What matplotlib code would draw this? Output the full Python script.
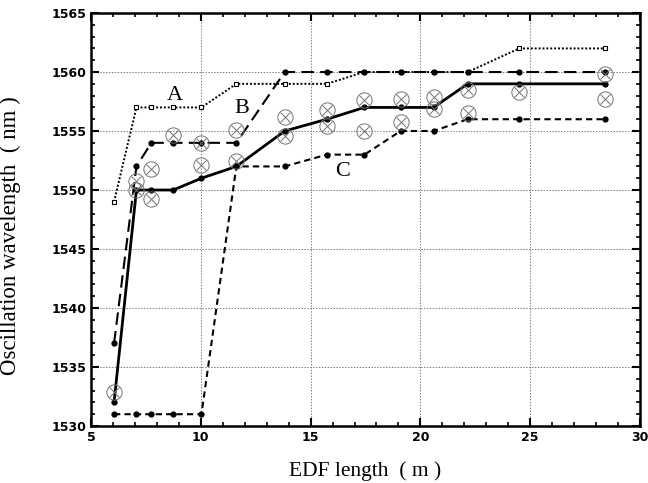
import matplotlib

matplotlib.use("Agg")
import matplotlib.pyplot as plt
from matplotlib.ticker import MultipleLocator

# EDF lengths (m) shared by all simulated curves
EDF_LEN = [6.05, 7.07, 7.75, 8.74, 10.03, 11.62, 13.82, 15.74, 17.45, 19.1, 20.6, 22.15, 24.5, 28.4]

# simulated oscillation wavelength (nm)
CURVE_A = [1549, 1557, 1557, 1557, 1557, 1559, 1559, 1559, 1560, 1560, 1560, 1560, 1562, 1562]
CURVE_B = [1537, 1552, 1554, 1554, 1554, 1554, 1560, 1560, 1560, 1560, 1560, 1560, 1560, 1560]
CURVE_MID = [1532, 1550, 1550, 1550, 1551, 1552, 1555, 1556, 1557, 1557, 1557, 1559, 1559, 1559]
CURVE_C = [1531, 1531, 1531, 1531, 1531, 1552, 1552, 1553, 1553, 1555, 1555, 1556, 1556, 1556]

# measured points
MEAS_X = [6.05, 7.07, 7.07, 7.75, 7.75, 8.74, 10.03, 10.03, 11.62, 11.62, 13.82, 13.82,
          15.74, 15.74, 17.45, 17.45, 19.1, 19.1, 20.6, 20.6, 22.15, 22.15, 24.5, 28.4, 28.4]
MEAS_Y = [1532.9, 1550.8, 1550.0, 1551.8, 1549.2, 1554.7, 1554.0, 1552.1, 1555.1, 1552.5,
          1556.2, 1554.6, 1556.8, 1555.4, 1557.6, 1555.0, 1557.7, 1555.8, 1557.9, 1556.9,
          1558.5, 1556.5, 1558.3, 1559.8, 1557.7]

SERIF = ["Liberation Serif", "DejaVu Serif"]

fig = plt.figure(figsize=(6.48, 4.83), dpi=100)
ax = fig.add_axes([0.1404, 0.118, 0.8473, 0.855])

ax.plot(EDF_LEN, CURVE_A, color="black", lw=1.4, linestyle=(0, (1, 1)),
        marker="s", markersize=3.5, markerfacecolor="white", markeredgewidth=0.8, zorder=3)
ax.plot(EDF_LEN, CURVE_B, color="black", lw=1.5, linestyle=(0, (6, 3)),
        marker="o", markersize=3.5, zorder=3)
ax.plot(EDF_LEN, CURVE_MID, color="black", lw=2.0, linestyle="-",
        marker="o", markersize=3.5, zorder=4)
ax.plot(EDF_LEN, CURVE_C, color="black", lw=1.5, linestyle=(0, (3, 2)),
        marker="o", markersize=3.5, zorder=3)

ax.plot(MEAS_X, MEAS_Y, linestyle="none", marker="o", markersize=11,
        markerfacecolor="none", markeredgecolor="0.45", markeredgewidth=0.7, zorder=5)
ax.plot(MEAS_X, MEAS_Y, linestyle="none", marker="x", markersize=7.5,
        markeredgecolor="0.45", markeredgewidth=0.7, zorder=5)

ax.text(8.82, 1558.05, "A", fontsize=16, family=SERIF, ha="center", va="center")
ax.text(11.86, 1556.9, "B", fontsize=16, family=SERIF, ha="center", va="center")
ax.text(16.47, 1551.55, "C", fontsize=16, family=SERIF, ha="center", va="center")

ax.set_xlim(5, 30)
ax.set_ylim(1530, 1565)
ax.xaxis.set_major_locator(MultipleLocator(5))
ax.xaxis.set_minor_locator(MultipleLocator(1))
ax.yaxis.set_major_locator(MultipleLocator(5))
ax.yaxis.set_minor_locator(MultipleLocator(1))
ax.tick_params(which="both", direction="in", top=True, right=True, labelsize=9)
ax.tick_params(which="major", length=6, width=1.5)
ax.tick_params(which="minor", length=3, width=1.2)
for lab in ax.get_xticklabels() + ax.get_yticklabels():
    lab.set_fontweight("bold")
ax.grid(True, which="major", linestyle=(0, (1.5, 1.5)), color="0.5", lw=0.7)
for spine in ax.spines.values():
    spine.set_linewidth(1.8)

ax.set_xlabel("EDF length  ( m )", fontsize=15.5, family=SERIF)
ax.set_ylabel("Oscillation wavelength  ( nm )", fontsize=16.5, family=SERIF)
ax.xaxis.set_label_coords(0.5, -0.085)
ax.yaxis.set_label_coords(-0.127, 0.46)

fig.savefig("out.png", dpi=100)
